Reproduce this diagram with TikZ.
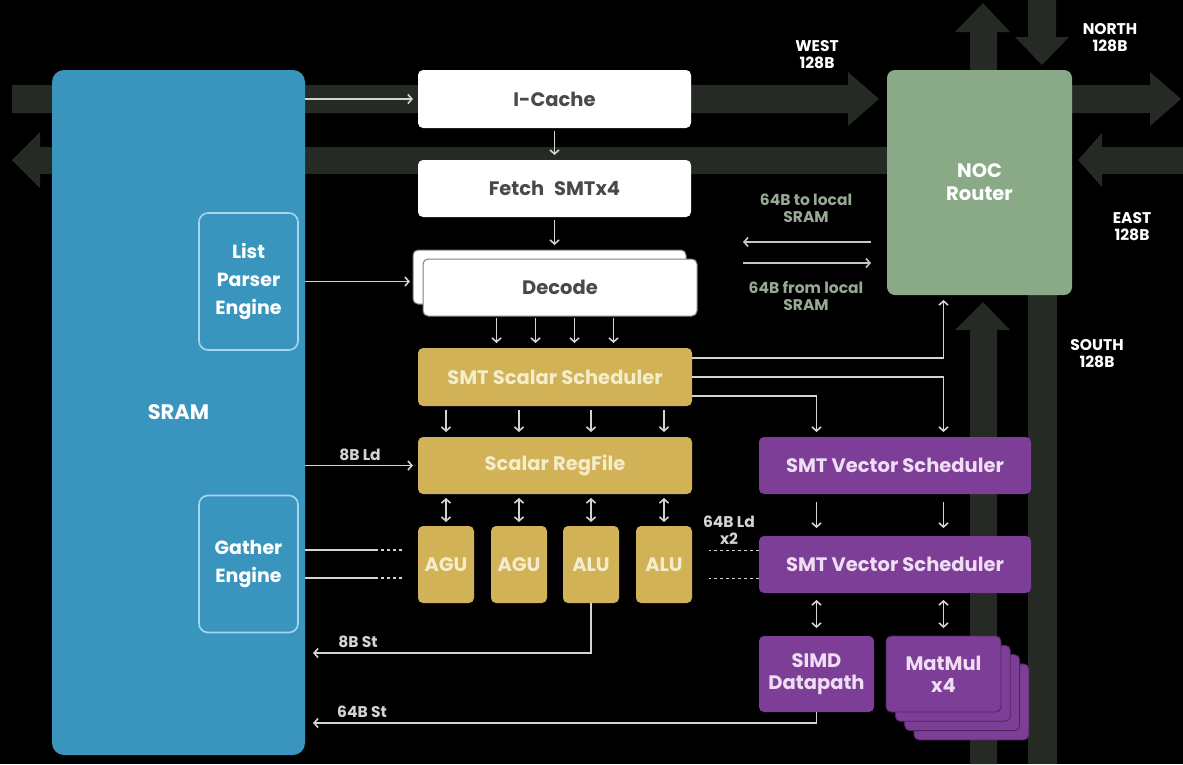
\documentclass[tikz,border=0pt]{standalone}
\usepackage[svgnames]{xcolor}
\usepackage{fontspec}
\setmainfont{Poppins}
\usepackage{tikz}
\usetikzlibrary{arrows.meta}
\definecolor{sramBlue}{HTML}{3A95BE}
\definecolor{engineEdge}{HTML}{A6D6EC}
\definecolor{routerGreen}{HTML}{8AAA87}
\definecolor{scalarGold}{HTML}{D1B257}
\definecolor{goldText}{HTML}{F4ECCB}
\definecolor{vectorPurple}{HTML}{7D3E97}
\definecolor{purpleText}{HTML}{EFDDF3}
\definecolor{busDark}{HTML}{262A24}
\definecolor{nocText}{HTML}{97A895}
\colorlet{boxText}{DimGray!70!black}
\colorlet{wireGray}{LightGray}
\colorlet{nocWire}{nocText!60!white}

\begin{document}
\begin{tikzpicture}[
  x=1pt,
  y=-1pt,
  bus/.style={
    fill=busDark,
  },
  unit/.style={
    rounded corners=5pt,
    inner sep=0pt,
    outer sep=0pt,
    align=center,
    font=\bfseries\fontsize{19.5}{24}\selectfont,
  },
  front/.style={
    unit,
    fill=white,
    text=boxText,
  },
  scalar/.style={
    unit,
    fill=scalarGold,
    text=goldText,
  },
  vector/.style={
    unit,
    fill=vectorPurple,
    text=purpleText,
  },
  engine/.style={
    unit,
    draw=engineEdge,
    line width=1.6pt,
    rounded corners=9pt,
    text=white,
    minimum width=99,
    minimum height=137,
    font=\bfseries\fontsize{19}{28}\selectfont,
  },
  tag/.style={
    text=white,
    align=center,
    inner sep=0pt,
    font=\bfseries\fontsize{15.5}{17}\selectfont,
  },
  noctag/.style={
    tag,
    text=nocText,
  },
  wire/.style={
    draw=wireGray,
    line width=1.6pt,
    -{Straight Barb[length=4pt,width=9pt]},
    shorten >=5pt,
  },
  dwire/.style={
    wire,
    {Straight Barb[length=4pt,width=9pt]}-{Straight Barb[length=4pt,width=9pt]},
    shorten <=4pt,
    shorten >=4pt,
  },
  stub/.style={
    draw=wireGray,
    line width=1.6pt,
  },
  dots/.style={
    stub,
    dash pattern=on 3pt off 3pt,
  },
]
\useasboundingbox (0,0) rectangle (1183,764);
\fill[black] (0,0) rectangle (1183,764);

% network buses
\fill[bus] (12,85) -- (848,85) -- (848,72) -- (879,99) -- (848,126) -- (848,113) -- (12,113) -- cycle;
\fill[bus] (1072,85) -- (1150,85) -- (1150,72) -- (1181,99) -- (1150,126) -- (1150,113) -- (1072,113) -- cycle;
\fill[bus] (887,147) -- (40,147) -- (40,132) -- (12,160) -- (40,188) -- (40,174) -- (887,174) -- cycle;
\fill[bus] (1183,147) -- (1102,147) -- (1102,133) -- (1078,160) -- (1102,187) -- (1102,174) -- (1183,174) -- cycle;
\fill[bus] (970,70) -- (970,32) -- (955,32) -- (983,3) -- (1010,32) -- (997,32) -- (997,70) -- cycle;
\fill[bus] (1028,0) -- (1028,37) -- (1015,37) -- (1042,65) -- (1069,37) -- (1056,37) -- (1056,0) -- cycle;
\fill[bus] (970,764) -- (970,330) -- (955,330) -- (983,302) -- (1010,330) -- (997,330) -- (997,764) -- cycle;
\fill[bus] (1028,295) rectangle (1057,764);

\node[unit, fill=sramBlue, text=white, rounded corners=12pt, minimum width=253, minimum height=685, font=\bfseries\fontsize{21}{24}\selectfont] (sram) at (178.5,412.5) {SRAM};
\node[engine] (listparser) at (248.5,281.5) {List\\Parser\\Engine};
\node[engine] (gather) at (248.5,564) {Gather\\Engine};

\node[unit, fill=routerGreen, text=white, rounded corners=8pt, minimum width=185, minimum height=225] (router) at (979.5,182.5) {NOC\\[-1pt]Router};

\node[front, minimum width=273, minimum height=58] (icache) at (554.5,99) {I-Cache};
\node[front, minimum width=273, minimum height=57] (fetch) at (554.5,188.5) {Fetch\enspace SMTx4};
\node[front, draw=Gray, line width=1pt, minimum width=273, minimum height=54] (decodeback) at (549.5,277) {};
\node[front, draw=Gray, line width=1pt, minimum width=274, minimum height=57] (decode) at (560,287.5) {Decode};

\node[scalar, minimum width=274, minimum height=58] (sched) at (555,377) {SMT Scalar Scheduler};
\node[scalar, minimum width=274, minimum height=57] (regfile) at (555,465.5) {Scalar RegFile};
\foreach \name/\x/\txt in {agu1/446/AGU, agu2/519/AGU, alu1/591/ALU, alu2/664/ALU}
  \node[scalar, minimum width=56, minimum height=77] (\name) at (\x,564.5) {\txt};

\node[vector, minimum width=272, minimum height=57] (vsched1) at (895,465.5) {SMT Vector Scheduler};
\node[vector, minimum width=272, minimum height=57] (vsched2) at (895,564.5) {SMT Vector Scheduler};
\node[vector, minimum width=115, minimum height=76] (simd) at (816.5,674) {SIMD\\[-2pt]Datapath};
\foreach \k in {3,2,1}
  \node[vector, draw=vectorPurple!60!black, line width=0.8pt, minimum width=115, minimum height=76] at (943.5+9.3*\k,674+9.3*\k) {};
\node[vector, draw=vectorPurple!60!black, line width=0.8pt, minimum width=115, minimum height=76] (matmul) at (943.5,674) {MatMul\\[-2pt]x4};

% labels
\node[tag] (west) at (817,55) {WEST\\128B};
\node[tag] (north) at (1110,38) {NORTH\\128B};
\node[tag] (east) at (1132,227) {EAST\\128B};
\node[tag] (south) at (1097,354) {SOUTH\\128B};
\node[noctag] (tolocal) at (806,208) {64B to local\\SRAM};
\node[noctag] (fromlocal) at (806,296) {64B from local\\SRAM};
\node[tag, text=wireGray] (ld8) at (360,455) {8B Ld};
\node[tag, text=wireGray] (st8lbl) at (358,642) {8B St};
\node[tag, text=wireGray] (st64lbl) at (362,712) {64B St};
\node[tag, text=wireGray] (ld64) at (729,530) {64B Ld\\x2};

\coordinate (toSram) at (743,242);
\coordinate (fromSram) at (743,263);
\coordinate (st8) at (305,653);
\coordinate (st64) at (305,723);

% front end
\draw[wire] (sram.east |- icache.west) -- (icache.west);
\draw[wire, shorten <=3pt] (icache.south) -- (fetch.north);
\draw[wire, shorten <=3pt] (fetch.south) -- (fetch.south |- decodeback.north);
\draw[wire, shorten >=3pt] (sram.east |- listparser.east) -- (decodeback.west |- listparser.east);
\foreach \dx in {-58.5,-19.5,19.5,58.5}
  \draw[wire, shorten <=2pt] ([xshift=\dx pt]sched.north |- decode.south) -- ([xshift=\dx pt]sched.north);

% scalar side
\draw[wire] (sram.east |- regfile.west) -- (regfile.west);
\foreach \u in {agu1,agu2,alu1,alu2} {
  \draw[wire, shorten <=4pt] (\u |- sched.south) -- (\u |- regfile.north);
  \draw[dwire] (\u |- regfile.south) -- (\u.north);
}
\foreach \dy in {14,-14} {
  \draw[stub] ([yshift=\dy pt]gather.east -| sram.east) -- ++(73,0);
  \draw[dots] ([yshift=\dy pt]gather.east -| sram.east) ++(76,0) -- ++(22,0);
  \draw[dots] ([yshift=\dy pt]vsched2.west) -- ++(-50,0);
}
\draw[wire, shorten >=8pt] (alu1.south) |- (st8);
\draw[wire, shorten >=8pt] (simd.south) |- (st64);

% scheduler fan-out
\draw[wire] ([yshift=19pt]sched.east) -| (matmul.north |- router.south);
\draw[wire] (sched.east) -| (matmul.north |- vsched1.north);
\draw[wire] ([yshift=-19pt]sched.east) -| (simd.north |- vsched1.north);

% vector side
\foreach \u in {simd,matmul} {
  \draw[wire, shorten <=8pt, shorten >=8pt] (\u |- vsched1.south) -- (\u |- vsched2.north);
  \draw[dwire, shorten <=7pt, shorten >=8pt] (\u |- vsched2.south) -- (\u.north);
}

% router to local memory
\draw[wire, draw=nocWire, shorten <=16pt, shorten >=0pt] (router.west |- toSram) -- (toSram);
\draw[wire, draw=nocWire, shorten >=16pt] (fromSram) -- (router.west |- fromSram);
\end{tikzpicture}
\end{document}
